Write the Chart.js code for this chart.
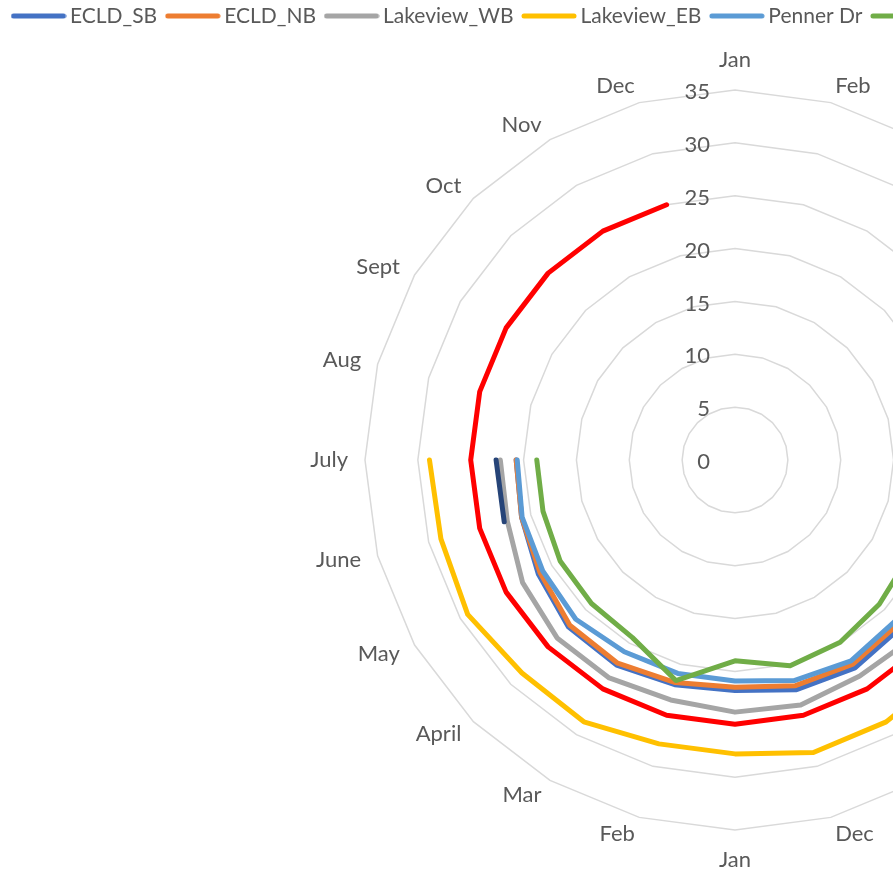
<!DOCTYPE html>
<html>
<head>
<meta charset="utf-8">
<script src="https://cdn.jsdelivr.net/npm/chart.js@4.4.1/dist/chart.umd.min.js"></script>
<style>
  html, body { margin: 0; padding: 0; overflow: hidden; background: #ffffff; }
  #wrap { width: 1470px; height: 887px; }
</style>
</head>
<body>
<div id="wrap"><canvas id="speedRadar" width="1470" height="887"></canvas></div>
<script>
// Two years of monthly average speeds around the dial
const months = ['Jan', 'Feb', 'Mar', 'April', 'May', 'June', 'July', 'Aug', 'Sept', 'Oct', 'Nov', 'Dec',
                'Jan', 'Feb', 'Mar', 'April', 'May', 'June', 'July', 'Aug', 'Sept', 'Oct', 'Nov', 'Dec'];

const axisTicks = [0, 5, 10, 15, 20, 25, 30, 35];

const ecldSb      = [null, null, null, null, 22.0, 22.4, 22.8, 22.5, 22.6, 22.3, 22.7, 22.5, 21.8, 22.0, 22.4, 22.3, 21.5, 20.9, 20.7, null, null, null, null, null];
const ecldNb      = [null, null, null, null, 21.6, 22.0, 22.3, 22.1, 22.2, 21.9, 22.3, 22.1, 21.5, 21.8, 22.2, 22.1, 21.3, 20.9, 20.7, null, null, null, null, null];
const lakeviewWb  = [null, null, null, null, 23.5, 23.9, 24.2, 24.0, 23.9, 23.8, 23.6, 24.0, 23.85, 23.5, 23.8, 23.8, 23.2, 22.3, 22.2, null, null, null, null, null];
const lakeviewEb  = [null, null, null, null, 28.2, 28.7, 29.0, 28.8, 28.5, 28.4, 28.6, 28.65, 27.8, 27.8, 28.6, 28.5, 29.2, 28.8, 28.9, null, null, null, null, null];
const pennerDr    = [null, null, null, null, 21.0, 21.4, 21.8, 21.5, 21.6, 21.5, 21.95, 21.6, 20.9, 20.9, 20.95, 21.3, 21.0, 20.85, 20.6, null, null, null, null, null];
const riversideNb = [null, null, null, null, 19.6, 19.9, 19.2, 19.0, 18.8, 19.3, 19.9, 20.15, 19.0, 21.6, 19.4, 19.2, 19.1, 18.8, 18.75, null, null, null, null, null];
const riversideSb = [null, null, null, null, null, null, null, null, null, null, null, null, null, null, null, null, null, 22.6, 22.6, null, null, null, null, null];
const speedLimit  = [null, null, null, 25, 25, 25, 25, 25, 25, 25, 25, 25, 25, 25, 25, 25, 25, 25, 25, 25, 25, 25, 25, 25];

const seriesNames  = ['ECLD_SB', 'ECLD_NB', 'Lakeview_WB', 'Lakeview_EB', 'Penner Dr', 'Riverside_NB', 'Riverside_SB', 'Speed Limit'];
const seriesValues = [ecldSb, ecldNb, lakeviewWb, lakeviewEb, pennerDr, riversideNb, riversideSb, speedLimit];
const seriesColors = ['#4472C4', '#ED7D31', '#A5A5A5', '#FFC000', '#5B9BD5', '#70AD47', '#264478', '#FF0000'];

const TEXT_COLOR = '#595959';
const FONT_FAMILY = 'Lato';
const FONT_SIZE = 22;
const LEGEND_FONT_SIZE = 21;
const LINE_WIDTH = 5;
const LEGEND_BAND = 99;     // height reserved above the dial for the legend row
const LABEL_GAP = 17;       // distance of month names outside the outer ring
const TICK_OFFSET = 25;     // value labels sit left of the vertical axis

Chart.defaults.font.family = FONT_FAMILY;

// Short thick line used as each series' legend swatch
function makeSwatch(color) {
  const c = document.createElement('canvas');
  c.width = 56;
  c.height = 8;
  const g = c.getContext('2d');
  g.strokeStyle = color;
  g.lineWidth = LINE_WIDTH;
  g.lineCap = 'round';
  g.beginPath();
  g.moveTo(3, 4);
  g.lineTo(53, 4);
  g.stroke();
  return c;
}
const swatches = seriesColors.map(makeSwatch);

// Reserve a fixed band for the legend so the dial sits lower on the page
const legendBand = {
  id: 'legendBand',
  beforeLayout(chart) {
    const lg = chart.legend;
    if (lg && !lg._banded) {
      const fit = lg.fit;
      lg.fit = function () { fit.call(this); this.height = LEGEND_BAND; };
      lg._banded = true;
    }
  }
};

// Value labels left of the axis and month names around the outer ring
const axisText = {
  id: 'axisText',
  afterDatasetsDraw(chart) {
    const r = chart.scales.r;
    const ctx = chart.ctx;
    ctx.save();
    ctx.font = FONT_SIZE + 'px ' + FONT_FAMILY;
    ctx.fillStyle = TEXT_COLOR;

    ctx.textAlign = 'right';
    ctx.textBaseline = 'middle';
    r.ticks.forEach(t => {
      const d = r.getDistanceFromCenterForValue(t.value);
      ctx.fillText(t.label, r.xCenter - TICK_OFFSET, r.yCenter - d + 2);
    });

    const half = FONT_SIZE * 1.2 / 2;
    months.forEach((name, i) => {
      const p = r.getPointPosition(i, r.drawingArea + LABEL_GAP);
      let deg = Math.round((p.angle + Math.PI / 2) * 180 / Math.PI) % 360;
      if (deg < 0) deg += 360;
      let y = p.y;
      if (deg === 0) {
        ctx.textAlign = 'center';
        y -= half;
      } else if (deg === 180) {
        ctx.textAlign = 'center';
        y += half;
      } else if (deg < 180) {
        ctx.textAlign = 'left';
      } else {
        ctx.textAlign = 'right';
      }
      ctx.fillText(name, p.x, y);
    });
    ctx.restore();
  }
};

const datasets = seriesNames.map((name, i) => ({
  label: name,
  data: seriesValues[i],
  borderColor: seriesColors[i],
  backgroundColor: seriesColors[i],
  borderWidth: LINE_WIDTH,
  borderCapStyle: 'round',
  borderJoinStyle: 'round',
  pointRadius: 0,
  pointHoverRadius: 0,
  fill: false,
  tension: 0,
  spanGaps: false,
  order: seriesNames.length - i
}));

new Chart(document.getElementById('speedRadar'), {
  type: 'radar',
  data: { labels: months, datasets },
  options: {
    responsive: false,
    animation: false,
    devicePixelRatio: 1,
    layout: { padding: { top: -9, left: 3, right: 3, bottom: 57 } },
    scales: {
      r: {
        min: axisTicks[0],
        max: axisTicks[axisTicks.length - 1],
        ticks: { stepSize: axisTicks[1] - axisTicks[0], display: false },
        grid: { color: '#D9D9D9', lineWidth: 1.5, circular: false },
        angleLines: { display: false },
        pointLabels: { display: false }
      }
    },
    plugins: {
      tooltip: { enabled: false },
      legend: {
        position: 'top',
        align: 'start',
        labels: {
          usePointStyle: true,
          pointStyleWidth: 42,
          padding: 14.5,
          color: TEXT_COLOR,
          font: { size: LEGEND_FONT_SIZE, family: FONT_FAMILY },
          generateLabels(chart) {
            const items = Chart.defaults.plugins.legend.labels.generateLabels(chart);
            items.forEach(it => {
              it.pointStyle = swatches[it.datasetIndex];
              it.rotation = 0;
            });
            return items.sort((a, b) => a.datasetIndex - b.datasetIndex);
          }
        }
      }
    }
  },
  plugins: [legendBand, axisText]
});
</script>
</body>
</html>
